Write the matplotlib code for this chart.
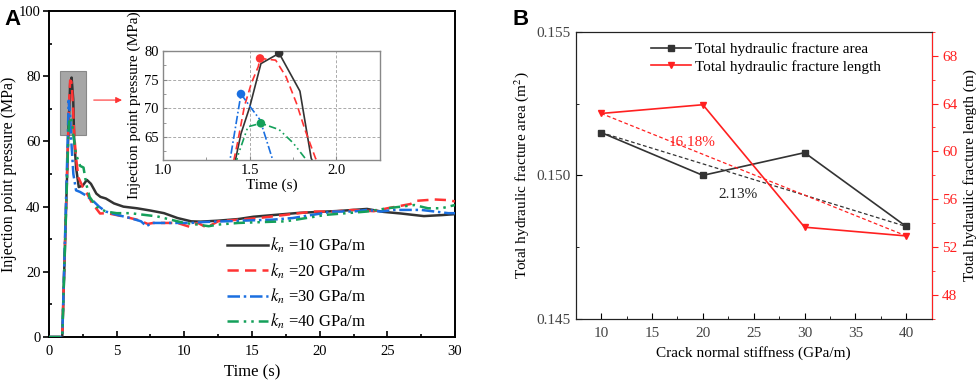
import matplotlib
matplotlib.use("Agg")
import matplotlib.pyplot as plt
from matplotlib.patches import Rectangle
from matplotlib.ticker import MultipleLocator

plt.rcParams['font.family'] = ['Liberation Serif', 'DejaVu Serif']
plt.rcParams['mathtext.fontset'] = 'stix'

# ---- panel A data: injection point pressure vs time ----
t_k10 = [0, 0.98, 1.42, 1.45, 1.5, 1.565, 1.67, 1.79, 1.855, 2.0, 2.2, 2.5, 2.8, 3.1, 3.5,
         3.8, 4.2, 4.8, 5.5, 6.5, 7.5, 8.5, 9.5, 10.5, 11.2, 12.5, 14, 15.1, 16.5, 18.5,
         20, 21.5, 23.5, 24.7, 26, 27.7, 29, 30]
p_k10 = [0, 0, 61.3, 65.6, 70.2, 77.8, 79.6, 73, 61.3, 52, 46, 46.5, 48.2, 47, 44,
         43, 42.5, 41, 40, 39.5, 38.8, 38, 36.5, 35.5, 35.4, 35.7, 36.2, 36.9, 37.4, 38.1,
         38.4, 38.7, 39.3, 38.4, 37.9, 37.1, 37.4, 37.7]

t_k20 = [0, 0.98, 1.43, 1.47, 1.51, 1.55, 1.56, 1.65, 1.71, 1.77, 1.82, 1.88, 2.0, 2.17, 2.5,
         2.8, 3.2, 3.77, 4.3, 5.5, 6.5, 7.0, 7.3, 7.7, 8.5, 9.5, 10.4, 11.0, 11.65, 12.5,
         14, 15.5, 17.5, 19.5, 21, 22.5, 24, 25, 26.7, 27.2, 28.5, 29.5, 30]
p_k20 = [0, 0, 64, 70.4, 74.4, 77.3, 78.7, 78.4, 75.5, 70.9, 66.2, 61.3, 55, 49, 46,
         44.1, 41, 37.9, 38, 37, 36, 35.2, 34.7, 35, 35, 35, 33.8, 35, 33.6, 35.5,
         36, 36.5, 37.5, 38.5, 38.5, 39, 38.6, 39.5, 40.8, 41.8, 42.2, 42, 41.6]

t_k30 = [0, 0.98, 1.39, 1.45, 1.51, 1.56, 1.63, 1.8, 2.0, 2.3, 2.7, 3.2, 3.7, 4.2, 5,
         6, 6.8, 7.2, 7.6, 8.5, 9.5, 10.5, 11.5, 13, 15, 16.5, 18, 19.5, 21, 22.5,
         23.5, 24.5, 25.5, 27.5, 28.5, 29.5, 30]
p_k30 = [0, 0, 61.6, 72.5, 70, 68, 61.3, 50, 45, 44.5, 43.5, 42, 40, 38.5, 37.5,
         36.5, 35.5, 34, 35, 35, 35, 35, 35.3, 35.5, 35.8, 36, 36.5, 37.5, 38.5, 38.5,
         39, 38.5, 39, 39, 38.5, 38, 38]

t_k40 = [0, 0.98, 1.43, 1.49, 1.565, 1.67, 1.75, 1.82, 2.0, 2.3, 2.55, 2.75, 3.0, 3.5, 4.2,
         5, 6, 7, 8, 9, 10, 11, 11.8, 12.5, 14, 16, 17.5, 19, 20.5, 22,
         23.5, 25, 26, 27, 28, 29, 29.5, 30]
p_k40 = [0, 0, 61.6, 66.8, 67.4, 66.3, 64, 61.3, 56, 52.5, 52, 47, 43, 40, 38.5,
         38, 38, 37.5, 37, 36, 35, 34.5, 34, 34.5, 35, 35.3, 35.5, 36.5, 37.5, 38,
         38.5, 39.5, 40, 40.5, 39.5, 39.5, 40, 40.5]

peak_t = [1.67, 1.56, 1.45, 1.565]
peak_p = [79.6, 78.7, 72.5, 67.4]

series_labels = [r"$k_n$ =10 GPa/m", r"$k_n$ =20 GPa/m", r"$k_n$ =30 GPa/m", r"$k_n$ =40 GPa/m"]
colors = ['#333333', '#ff3333', '#1a6fe0', '#14a05a']
styles = ['-', (0, (4.5, 2.5)), (0, (5, 1.5, 1, 1.5)), (0, (4.5, 2, 1, 2, 1, 2))]

# ---- panel B data ----
stiffness = [10, 20, 30, 40]
frac_area = [0.15149, 0.15000, 0.15079, 0.14822]
frac_length = [63.17, 63.9, 53.67, 52.94]

fig = plt.figure(figsize=(9.76, 3.88), dpi=100)

# ================= panel A =================
axA = fig.add_axes([0.0502, 0.1314, 0.416, 0.840])
data = [(t_k10, p_k10), (t_k20, p_k20), (t_k30, p_k30), (t_k40, p_k40)]
for (t, p), lab, c, ls in zip(data, series_labels, colors, styles):
    axA.plot(t, p, color=c, linestyle=ls, lw=1.8, label=lab, zorder=3)

axA.add_patch(Rectangle((0.8, 62), 1.95, 19.7, facecolor='#a6a6a6', edgecolor='#888888',
                        lw=0.8, zorder=1))
axA.annotate('', xy=(5.6, 72.7), xytext=(3.1, 72.7),
             arrowprops=dict(arrowstyle='-|>', color='#ff3333', lw=0.8, mutation_scale=9))

axA.set_xlim(0, 30)
axA.set_ylim(0, 100)
axA.xaxis.set_major_locator(MultipleLocator(5))
axA.xaxis.set_minor_locator(MultipleLocator(2.5))
axA.yaxis.set_major_locator(MultipleLocator(20))
axA.yaxis.set_minor_locator(MultipleLocator(10))
axA.tick_params(axis='x', which='both', direction='in', labelsize=10.5, pad=6)
axA.tick_params(axis='y', which='major', direction='out', labelsize=10.5, pad=2)
axA.tick_params(axis='y', which='minor', direction='in')
axA.tick_params(which='major', length=4, width=1.2)
axA.tick_params(which='minor', length=2.5, width=1.2)
for s in axA.spines.values():
    s.set_linewidth(1.4)
axA.set_xlabel('Time (s)', fontsize=12)
axA.set_ylabel('Injection point pressure (MPa)', fontsize=11.5, labelpad=1)
axA.legend(loc='upper left', bbox_to_anchor=(0.438, 0.31), frameon=False, fontsize=12,
           handlelength=2.5, handletextpad=0.1, labelspacing=0.35, borderpad=0,
           borderaxespad=0)

# inset
axI = fig.add_axes([0.167, 0.5876, 0.222, 0.281])
for (t, p), c, ls in zip(data, colors, styles):
    axI.plot(t, p, color=c, linestyle=ls, lw=1.2)
axI.scatter(peak_t, peak_p, color=colors, s=38, zorder=5, edgecolors='none')
axI.set_xlim(1.0, 2.25)
axI.set_ylim(61, 80)
axI.set_xticks([1.0, 1.5, 2.0])
axI.set_yticks([65, 70, 75, 80])
axI.xaxis.set_minor_locator(MultipleLocator(0.25))
axI.yaxis.set_minor_locator(MultipleLocator(2.5))
axI.grid(True, which='major', color='#aaaaaa', linestyle=(0, (3, 2)), lw=0.7)
axI.tick_params(which='both', direction='in', color='#888888', labelsize=10.5, pad=3)
axI.tick_params(which='major', length=3)
axI.tick_params(which='minor', length=2)
for s in axI.spines.values():
    s.set_color('#888888')
    s.set_linewidth(1.0)
axI.set_xlabel('Time (s)', fontsize=11, labelpad=1)
axI.set_ylabel('Injection point pressure (MPa)', fontsize=11, labelpad=2)

fig.text(0.005, 0.978, 'A', fontsize=16, fontweight='bold', family='Liberation Sans',
         va='top', ha='left')

# ================= panel B =================
axB = fig.add_axes([0.5899, 0.1778, 0.3647, 0.7405])
axR = axB.twinx()
lb, = axB.plot(stiffness, frac_area, color='#333333', lw=1.2, marker='s', ms=4.5,
               label='Total hydraulic fracture area')
axB.plot([stiffness[0], stiffness[-1]], [frac_area[0], frac_area[-1]], color='#333333',
         lw=0.9, linestyle=(0, (3, 2)))
lr, = axR.plot(stiffness, frac_length, color='#ff2020', lw=1.2, marker='v', ms=5,
               label='Total hydraulic fracture length')
axR.plot([stiffness[0], stiffness[-1]], [frac_length[0], frac_length[-1]], color='#ff2020',
         lw=0.9, linestyle=(0, (3, 2)))

axB.set_xlim(7.5, 42.5)
axB.set_ylim(0.145, 0.155)
axR.set_ylim(46, 70)
axB.xaxis.set_major_locator(MultipleLocator(5))
axB.xaxis.set_minor_locator(MultipleLocator(2.5))
axB.set_yticks([0.145, 0.150, 0.155])
axB.yaxis.set_minor_locator(MultipleLocator(0.0025))
axR.set_yticks([48, 52, 56, 60, 64, 68])
axR.yaxis.set_minor_locator(MultipleLocator(2))
axB.tick_params(which='both', direction='in', labelsize=11, labelcolor='#444444')
axB.tick_params(axis='x', pad=6)
axB.tick_params(which='major', length=4)
axB.tick_params(which='minor', length=2.5)
axR.tick_params(which='both', direction='out', colors='#ff2020', labelsize=11)
axR.tick_params(which='major', length=4)
axR.tick_params(which='minor', length=2.5)
axR.spines['right'].set_color('#ff2020')
for s in ['left', 'top', 'bottom']:
    axR.spines[s].set_color('#222222')

axB.set_xlabel('Crack normal stiffness (GPa/m)', fontsize=11)
axB.set_ylabel('Total hydraulic fracture area (m$^2$)', fontsize=11)
axR.set_ylabel('Total hydraulic fracture length (m)', fontsize=11)

axB.text(18.9, 0.15116, '16.18%', color='#ff2020', fontsize=11, ha='center', va='center')
axB.text(23.5, 0.14934, '2.13%', color='#222222', fontsize=11, ha='center', va='center')

axB.legend([lb, lr], [lb.get_label(), lr.get_label()], loc='upper left',
           bbox_to_anchor=(0.19, 0.99), frameon=False, fontsize=11, handlelength=2.6,
           handletextpad=0.3, labelspacing=0.25, borderpad=0)

fig.text(0.525, 0.978, 'B', fontsize=16, fontweight='bold', family='Liberation Sans',
         va='top', ha='left')

fig.savefig('out.png', dpi=100)
